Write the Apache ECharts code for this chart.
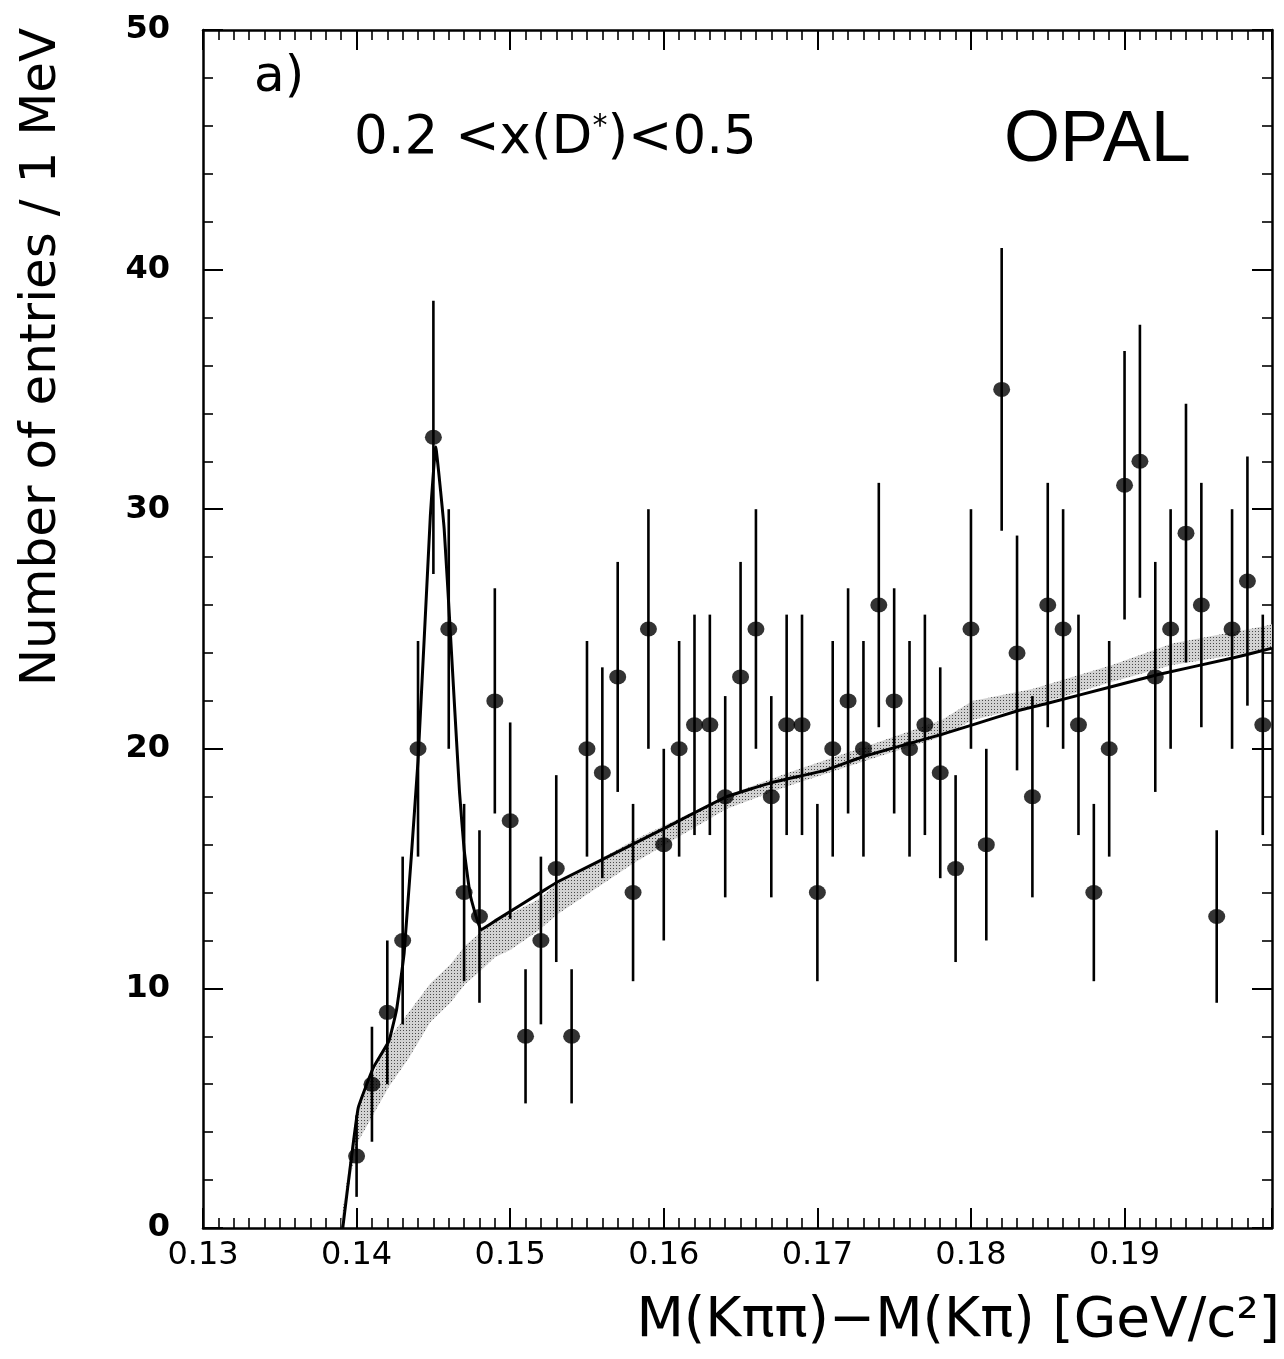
<!DOCTYPE html>
<html>
<head>
<meta charset="utf-8">
<title>OPAL D* delta-M</title>
<script src="https://cdn.jsdelivr.net/npm/echarts@6/dist/echarts.min.js"></script>
<style>
  html, body { margin: 0; padding: 0; background: #fff; }
  #main { width: 1284px; height: 1359px; }
</style>
</head>
<body>
<div id="main"></div>
<script>
// bin centres M(Kpipi)-M(Kpi) [GeV/c2]
var massBins = [0.140, 0.141, 0.142, 0.143, 0.144, 0.145, 0.146, 0.147, 0.148, 0.149,
                0.150, 0.151, 0.152, 0.153, 0.154, 0.155, 0.156, 0.157, 0.158, 0.159,
                0.160, 0.161, 0.162, 0.163, 0.164, 0.165, 0.166, 0.167, 0.168, 0.169,
                0.170, 0.171, 0.172, 0.173, 0.174, 0.175, 0.176, 0.177, 0.178, 0.179,
                0.180, 0.181, 0.182, 0.183, 0.184, 0.185, 0.186, 0.187, 0.188, 0.189,
                0.190, 0.191, 0.192, 0.193, 0.194, 0.195, 0.196, 0.197, 0.198, 0.199];
// entries per 1 MeV
var entries = [3, 6, 9, 12, 20, 33, 25, 14, 13, 22,
               17, 8, 12, 15, 8, 20, 19, 23, 14, 25,
               16, 20, 21, 21, 18, 23, 25, 18, 21, 21,
               14, 20, 22, 20, 26, 22, 20, 21, 19, 15,
               25, 16, 35, 24, 18, 26, 25, 21, 14, 20,
               31, 32, 23, 25, 29, 26, 13, 25, 27, 21];
// vertical error bars (half length)
var errors = [1.7, 2.4, 3.0, 3.5, 4.5, 5.7, 5.0, 3.7, 3.6, 4.7,
              4.1, 2.8, 3.5, 3.9, 2.8, 4.5, 4.4, 4.8, 3.7, 5.0,
              4.0, 4.5, 4.6, 4.6, 4.2, 4.8, 5.0, 4.2, 4.6, 4.6,
              3.7, 4.5, 4.7, 4.5, 5.1, 4.7, 4.5, 4.6, 4.4, 3.9,
              5.0, 4.0, 5.9, 4.9, 4.2, 5.1, 5.0, 4.6, 3.7, 4.5,
              5.6, 5.7, 4.8, 5.0, 5.4, 5.1, 3.6, 5.0, 5.2, 4.6];

// fitted curve (signal + background)
var fitX = [0.1391, 0.1401, 0.1411, 0.1421, 0.1426, 0.1431, 0.1440, 0.1448, 0.14515,
            0.1457, 0.1461, 0.1467, 0.1470, 0.1474, 0.1481, 0.1491, 0.1521, 0.1531,
            0.1581, 0.1601, 0.1641, 0.1671, 0.1705, 0.1731, 0.1781, 0.1801, 0.1831,
            0.1850, 0.1892, 0.1922, 0.1971, 0.1990, 0.1996];
var fitY = [0, 5.0, 6.7, 7.8, 9.1, 11.5, 19.5, 29.7, 32.6,
            29.2, 24.9, 18.2, 15.8, 13.9, 12.45, 12.85, 14.05, 14.45,
            16.05, 16.7, 18.0, 18.6, 19.1, 19.7, 20.6, 21.0, 21.6,
            21.9, 22.6, 23.1, 23.8, 24.1, 24.2];

// shaded background band (lower / upper edge)
var bandX    = [0.1390, 0.1400, 0.1421, 0.1434, 0.1448, 0.1461, 0.1471, 0.1480, 0.1490, 0.1500,
                0.1518, 0.1531, 0.1581, 0.1641, 0.1681, 0.1741, 0.1781, 0.1801, 0.1840, 0.1892,
                0.1931, 0.1990, 0.1996];
var bandLow  = [0, 3.5, 5.9, 7.1, 8.6, 9.4, 10.2, 10.7, 11.3, 11.6,
                12.4, 13.1, 15.25, 17.5, 18.45, 19.7, 20.5, 21.2, 21.8, 22.8,
                23.5, 24.1, 24.2];
var bandHigh = [0.3, 4.85, 7.9, 9.0, 10.2, 11.0, 11.8, 12.3, 12.9, 13.1,
                13.7, 14.4, 16.2, 18.05, 19.0, 20.3, 21.2, 22.0, 22.5, 23.5,
                24.4, 25.1, 25.2];

var xTicks = { min: 0.13, max: 0.1996, interval: 0.01 };
var yTicks = { min: 0, max: 50, interval: 10 };

var myChart = echarts.init(document.getElementById('main'), null, { renderer: 'canvas' });

// stippled grey fill for the band
var dots = document.createElement('canvas');
dots.width = 3; dots.height = 3;
var dctx = dots.getContext('2d');
dctx.fillStyle = '#d2d2d2';
dctx.fillRect(0, 0, 3, 3);
dctx.fillStyle = '#4a4a4a';
dctx.fillRect(1, 1, 1, 1);

var pointData = [], barData = [];
for (var i = 0; i < massBins.length; i++) {
  pointData.push([massBins[i], entries[i]]);
  barData.push([massBins[i], entries[i], errors[i]]);
}
var fitData = fitX.map(function (x, i) { return [x, fitY[i]]; });

var tickFont = 'DejaVu Sans, sans-serif';

function xAxisCfg(pos, showLabel) {
  return {
    type: 'value', position: pos,
    min: xTicks.min, max: xTicks.max, interval: xTicks.interval,
    axisLine: { show: true, onZero: false, lineStyle: { color: '#000', width: 2.5 } },
    axisTick: { show: true, inside: true, length: 20, lineStyle: { color: '#000', width: 2 } },
    minorTick: { show: true, splitNumber: 10, length: 10, lineStyle: { color: '#000', width: 1.6 } },
    splitLine: { show: false },
    axisLabel: {
      show: showLabel, margin: 12, color: '#000', fontSize: 32, fontFamily: tickFont,
      formatter: function (v) { return v > 0.195 ? '' : v.toFixed(2); }
    }
  };
}
function yAxisCfg(pos, showLabel) {
  return {
    type: 'value', position: pos,
    min: yTicks.min, max: yTicks.max, interval: yTicks.interval,
    axisLine: { show: true, onZero: false, lineStyle: { color: '#000', width: 2.5 } },
    axisTick: { show: true, inside: true, length: 20, lineStyle: { color: '#000', width: 2 } },
    minorTick: { show: true, splitNumber: 5, length: 10, lineStyle: { color: '#000', width: 1.6 } },
    splitLine: { show: false },
    axisLabel: { show: showLabel, margin: 33, color: '#000', fontSize: 32, fontWeight: 'bold', fontFamily: tickFont }
  };
}

var option = {
  animation: false,
  backgroundColor: '#fff',
  grid: { left: 203, right: 12, top: 30, bottom: 131 },
  xAxis: [xAxisCfg('bottom', true), xAxisCfg('top', false)],
  yAxis: [yAxisCfg('left', true), yAxisCfg('right', false)],
  graphic: [
    { type: 'text', x: 42, y: 357, rotation: Math.PI / 2,
      style: { text: 'Number of entries / 1 MeV', font: '50px DejaVu Sans, sans-serif', fill: '#000',
               textAlign: 'center', textVerticalAlign: 'middle' } },
    { type: 'text', x: 1280, y: 1322,
      style: { text: 'M(K\u03c0\u03c0)\u2212M(K\u03c0) [GeV/c\u00b2]', font: '55px DejaVu Sans, sans-serif', fill: '#000',
               textAlign: 'right', textVerticalAlign: 'middle' } },
    { type: 'text', x: 254, y: 78,
      style: { text: 'a)', font: '50px DejaVu Sans, sans-serif', fill: '#000',
               textAlign: 'left', textVerticalAlign: 'middle' } },
    { type: 'text', x: 354, y: 139,
      style: { text: '0.2 <x(D{s|*})<0.5', fill: '#000', textAlign: 'left', textVerticalAlign: 'middle',
               font: '53px DejaVu Sans, sans-serif',
               rich: { s: { fontSize: 30, fontFamily: 'DejaVu Sans', verticalAlign: 'top', padding: [0, 0, 24, 0] } } } },
    { type: 'text', x: 1004, y: 141,
      style: { text: 'OPAL', font: '72px Liberation Sans, Arial, sans-serif', fill: '#000',
               textAlign: 'left', textVerticalAlign: 'middle' } }
  ],
  series: [
    { // background band
      type: 'custom', name: 'band', z: 1, clip: true,
      data: [[0]],
      renderItem: function (params, api) {
        var pts = [];
        for (var k = 0; k < bandX.length; k++) pts.push(api.coord([bandX[k], bandHigh[k]]));
        for (var m = bandX.length - 1; m >= 0; m--) pts.push(api.coord([bandX[m], bandLow[m]]));
        return { type: 'polygon', shape: { points: pts },
                 style: { fill: { image: dots, repeat: 'repeat' }, stroke: null } };
      }
    },
    { // fit
      type: 'line', name: 'fit', z: 3, data: fitData, smooth: 0.1,
      symbol: 'none', lineStyle: { color: '#000', width: 3 }
    },
    { // error bars
      type: 'custom', name: 'errors', z: 4, clip: true,
      data: barData, encode: { x: 0, y: 1 },
      renderItem: function (params, api) {
        var x = api.value(0), y = api.value(1), e = api.value(2);
        var top = api.coord([x, y + e]);
        var bot = api.coord([x, y - e]);
        return { type: 'line', shape: { x1: top[0], y1: top[1], x2: bot[0], y2: bot[1] },
                 style: { stroke: '#000', lineWidth: 2.6 } };
      }
    },
    { // data points
      type: 'scatter', name: 'data', z: 5, data: pointData,
      symbol: 'circle', symbolSize: [17, 15],
      itemStyle: { color: '#000' }
    }
  ]
};
myChart.setOption(option);
</script>
</body>
</html>
